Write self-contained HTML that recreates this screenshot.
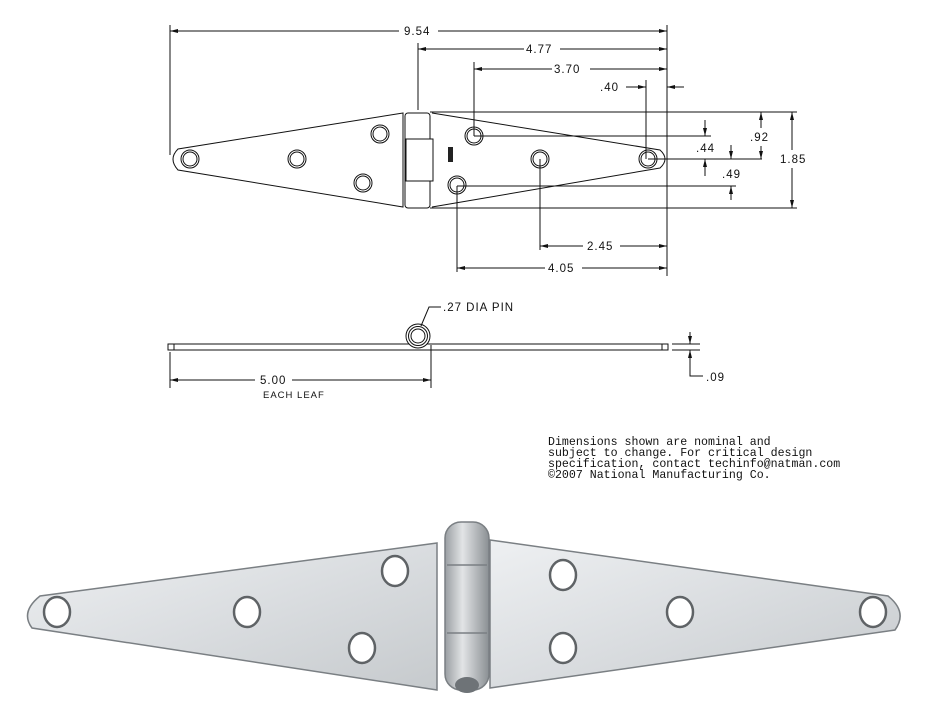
<!DOCTYPE html>
<html><head><meta charset="utf-8"><style>
html,body{margin:0;padding:0;background:#fff;}
svg{display:block;}
.t{font-family:"Liberation Sans",sans-serif;font-size:11.5px;fill:#111;letter-spacing:1px;}
.n{font-family:"Liberation Mono",monospace;font-size:11.6px;fill:#111;}
</style></head><body>
<svg width="935" height="715" viewBox="0 0 935 715" xmlns="http://www.w3.org/2000/svg">
<defs>
<marker id="a" markerWidth="8" markerHeight="4" refX="8" refY="2" orient="auto-start-reverse" markerUnits="userSpaceOnUse"><path d="M0,0 L8,2 L0,4z" fill="#111"/></marker>
<linearGradient id="m" x1="0" y1="0" x2="1" y2="1"><stop offset="0" stop-color="#eef0f2"/><stop offset=".5" stop-color="#dadde0"/><stop offset="1" stop-color="#c6cacd"/></linearGradient>
<linearGradient id="b" x1="0" y1="0" x2="1" y2="0"><stop offset="0" stop-color="#9a9ea2"/><stop offset=".4" stop-color="#e2e4e6"/><stop offset="1" stop-color="#8a8f93"/></linearGradient>
</defs>
<g fill="none" stroke="#111" stroke-width="1">
<path d="M403,113 L178,149 Q168,159 178,170 L403,207 Z" fill="#fff"/>
<path d="M432,113 L660,150 Q670,159 660,168 L432,207" fill="#fff"/>
<rect x="405" y="113" width="25" height="95" rx="3" fill="#fff"/>
<rect x="406" y="139" width="27" height="42" fill="#fff"/>
<rect x="448" y="147" width="5" height="15" fill="#222" stroke="none"/>
<g>
<circle cx="190" cy="159" r="9"/><circle cx="190" cy="159" r="7"/>
<circle cx="297" cy="159" r="9"/><circle cx="297" cy="159" r="7"/>
<circle cx="380" cy="134" r="9"/><circle cx="380" cy="134" r="7"/>
<circle cx="363" cy="183" r="9"/><circle cx="363" cy="183" r="7"/>
<circle cx="474" cy="136" r="9"/><circle cx="474" cy="136" r="7"/>
<circle cx="540" cy="159" r="9"/><circle cx="540" cy="159" r="7"/>
<circle cx="648" cy="159" r="9"/><circle cx="648" cy="159" r="7"/>
<circle cx="457" cy="185" r="9"/><circle cx="457" cy="185" r="7"/>
</g>
<line x1="170" y1="25" x2="170" y2="155"/>
<line x1="418" y1="43" x2="418" y2="110"/>
<line x1="474" y1="62" x2="474" y2="136"/>
<line x1="667" y1="25" x2="667" y2="276"/>
<line x1="646" y1="80" x2="646" y2="159"/>
<line x1="430" y1="112" x2="797" y2="112"/>
<line x1="430" y1="208" x2="797" y2="208"/>
<line x1="474" y1="136" x2="711" y2="136"/>
<line x1="648" y1="159" x2="762" y2="159"/>
<line x1="457" y1="186" x2="736" y2="186"/>
<line x1="540" y1="159" x2="540" y2="250"/>
<line x1="457" y1="186" x2="457" y2="272"/>
<line x1="170" y1="31" x2="399" y2="31" marker-start="url(#a)"/>
<line x1="438" y1="31" x2="667" y2="31" marker-end="url(#a)"/>
<line x1="418" y1="49" x2="524" y2="49" marker-start="url(#a)"/>
<line x1="560" y1="49" x2="667" y2="49" marker-end="url(#a)"/>
<line x1="474" y1="69" x2="552" y2="69" marker-start="url(#a)"/>
<line x1="590" y1="69" x2="667" y2="69" marker-end="url(#a)"/>
<line x1="626" y1="87" x2="646" y2="87" marker-end="url(#a)"/>
<line x1="684" y1="87" x2="667" y2="87" marker-end="url(#a)"/>
<line x1="705" y1="120" x2="705" y2="136" marker-end="url(#a)"/>
<line x1="705" y1="176" x2="705" y2="159" marker-end="url(#a)"/>
<line x1="761" y1="112" x2="761" y2="128" marker-start="url(#a)"/>
<line x1="761" y1="146" x2="761" y2="159" marker-end="url(#a)"/>
<line x1="731" y1="145" x2="731" y2="159" marker-end="url(#a)"/>
<line x1="731" y1="200" x2="731" y2="186" marker-end="url(#a)"/>
<line x1="792" y1="112" x2="792" y2="150" marker-start="url(#a)"/>
<line x1="792" y1="168" x2="792" y2="208" marker-end="url(#a)"/>
<line x1="540" y1="246" x2="583" y2="246" marker-start="url(#a)"/>
<line x1="620" y1="246" x2="667" y2="246" marker-end="url(#a)"/>
<line x1="457" y1="268" x2="545" y2="268" marker-start="url(#a)"/>
<line x1="582" y1="268" x2="667" y2="268" marker-end="url(#a)"/>
<rect x="168" y="344" width="500" height="6" fill="#fff"/>
<line x1="174" y1="344" x2="174" y2="350"/><line x1="662" y1="344" x2="662" y2="350"/>
<circle cx="418" cy="336" r="12" fill="#fff"/><circle cx="418" cy="336" r="9.5"/><circle cx="418" cy="336" r="7"/>
<polyline points="421,326 429,307 441,307"/>
<line x1="170" y1="352" x2="170" y2="388"/>
<line x1="431" y1="345" x2="431" y2="388"/>
<line x1="170" y1="380" x2="255" y2="380" marker-start="url(#a)"/>
<line x1="292" y1="380" x2="431" y2="380" marker-end="url(#a)"/>
<line x1="672" y1="344" x2="700" y2="344"/><line x1="672" y1="350" x2="700" y2="350"/>
<line x1="690" y1="332" x2="690" y2="344" marker-end="url(#a)"/>
<line x1="690" y1="362" x2="690" y2="350" marker-end="url(#a)"/>
<polyline points="690,362 690,376 703,376"/>
</g>
<g class="t">
<text x="404" y="35">9.54</text>
<text x="526" y="53">4.77</text>
<text x="554" y="73">3.70</text>
<text x="600" y="91">.40</text>
<text x="696" y="152">.44</text>
<text x="750" y="141">.92</text>
<text x="722" y="178">.49</text>
<text x="780" y="163">1.85</text>
<text x="587" y="250">2.45</text>
<text x="548" y="272">4.05</text>
<text x="443" y="311">.27 DIA PIN</text>
<text x="260" y="384">5.00</text>
<text x="263" y="398" style="font-size:9.5px">EACH LEAF</text>
<text x="706" y="381">.09</text>
</g>
<g class="n">
<text x="548" y="445">Dimensions shown are nominal and</text>
<text x="548" y="456">subject to change. For critical design</text>
<text x="548" y="467">specification, contact techinfo@natman.com</text>
<text x="548" y="478">©2007 National Manufacturing Co.</text>
</g>
<g stroke="#7a7f83" stroke-width="1.5">
<path d="M437,543 L40,596 Q20,612 32,628 L437,690 Z" fill="url(#m)"/>
<path d="M490,540 L888,596 Q908,612 895,630 L490,688 Z" fill="url(#m)"/>
<rect x="445" y="522" width="44" height="168" rx="16" fill="url(#b)"/>
<line x1="447" y1="565" x2="487" y2="565"/><line x1="447" y1="633" x2="487" y2="633"/>
</g>
<g fill="#fff" stroke="#5f6366" stroke-width="2.5">
<ellipse cx="57" cy="612" rx="13" ry="15"/>
<ellipse cx="247" cy="612" rx="13" ry="15"/>
<ellipse cx="395" cy="571" rx="13" ry="15"/>
<ellipse cx="362" cy="648" rx="13" ry="15"/>
<ellipse cx="563" cy="575" rx="13" ry="15"/>
<ellipse cx="563" cy="648" rx="13" ry="15"/>
<ellipse cx="680" cy="612" rx="13" ry="15"/>
<ellipse cx="873" cy="612" rx="13" ry="15"/>
</g>
<ellipse cx="467" cy="685" rx="12" ry="8" fill="#6e7377"/>
</svg>
</body></html>
